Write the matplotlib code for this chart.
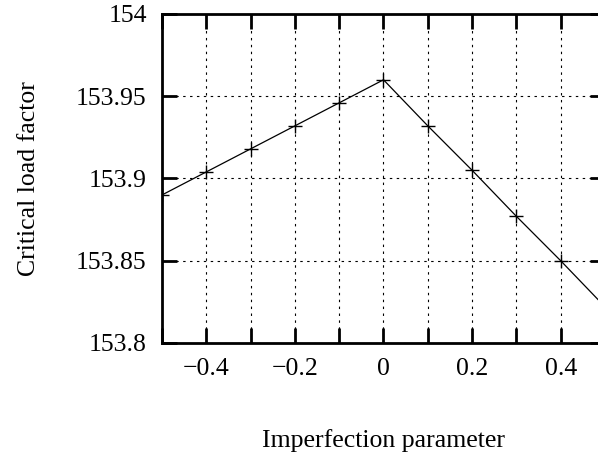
import numpy as np
import matplotlib
matplotlib.use('Agg')
import matplotlib.pyplot as plt
from matplotlib.ticker import FixedLocator

plt.rcParams['font.family'] = ['Liberation Serif', 'DejaVu Serif']

# data
imperfection = [-0.5, -0.4, -0.3, -0.2, -0.1, 0.0, 0.1, 0.2, 0.3, 0.4, 0.5]
load_factor = [153.890, 153.904, 153.918, 153.932, 153.946, 153.960,
               153.932, 153.905, 153.877, 153.850, 153.822]

x_ticks = [-0.5, -0.4, -0.3, -0.2, -0.1, 0.0, 0.1, 0.2, 0.3, 0.4, 0.5]
x_labels = ['', '\u22120.4', '', '\u22120.2', '', '0', '', '0.2', '', '0.4', '']
y_ticks = [153.8, 153.85, 153.9, 153.95, 154.0]
y_labels = ['153.8', '153.85', '153.9', '153.95', '154']

W, H = 598, 453
fig = plt.figure(figsize=(W / 100, H / 100), dpi=100)
# the right edge of the frame falls outside the picture, as in the reference
ax = fig.add_axes([162 / W, 1 - 343 / H, 443 / W, 329 / H])

ax.plot(imperfection, load_factor, color='black', lw=0.9,
        marker='+', markersize=9.5, markeredgewidth=1.0)

ax.set_xlim(-0.5, 0.5)
ax.set_ylim(153.8, 154.0)

ax.xaxis.set_major_locator(FixedLocator(x_ticks))
ax.set_xticklabels(x_labels)
ax.yaxis.set_major_locator(FixedLocator(y_ticks))
ax.set_yticklabels(y_labels)

ax.tick_params(direction='in', length=11, width=2.0, top=True, right=True,
               labelsize=18.5, pad=11, colors='black')

ax.grid(True, color='black', lw=0.8, linestyle=(0, (2.2, 4.0)))

for s in ax.spines.values():
    s.set_linewidth(2.0)

ax.set_xlabel('Imperfection parameter', fontsize=18.5, labelpad=35)
ax.set_ylabel('Critical load factor', fontsize=18.5, labelpad=26)

fig.savefig('out.png', dpi=100)
